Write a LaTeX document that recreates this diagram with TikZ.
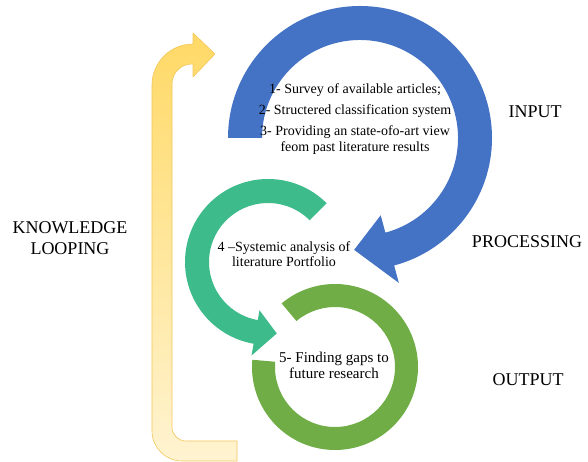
\documentclass[tikz,border=0pt]{standalone}
\usepackage{fontspec}
\setmainfont{Liberation Serif}
\definecolor{inblue}{HTML}{4472C4}
\definecolor{proteal}{HTML}{3EBB8B}
\definecolor{outgreen}{HTML}{70AD47}
\definecolor{loopyel}{HTML}{FFD966}
\definecolor{loopedge}{HTML}{F2C75C}
\begin{document}
\begin{tikzpicture}[x=1pt,y=1pt,line join=round,
	lbl/.style={font=\fontsize{18}{21}\selectfont,align=center},
	txt/.style={font=\fontsize{14}{16}\selectfont,align=center,inner sep=0pt}]
	\useasboundingbox (0,0) rectangle (588,462);
	% knowledge looping
	\shadedraw[top color=loopyel,bottom color=loopyel!30,draw=loopedge,line width=0.6pt] (237,21)--(186,21) arc[start angle=-90,end angle=-180,radius=14]--(172,378) arc[start angle=180,end angle=90,radius=20]--(193,398)--(193,385)--(215,408)--(193,429)--(193,418) arc[start angle=90,end angle=180,radius=41]--(152,31) arc[start angle=180,end angle=270,radius=30]--(237,1)--cycle;
	% input
	\begin{scope}[shift={(360,324)}]
		\fill[inblue] (180:132) arc[start angle=180,end angle=-75,radius=132]--(-75:150)--(-93:112)--(-75:80)--(-75:98) arc[start angle=-75,end angle=180,radius=98]--cycle;
	\end{scope}
	% processing
	\begin{scope}[shift={(268,200)}]
		\fill[proteal] (45:83) arc[start angle=45,end angle=260,radius=83]--(260:95)--(277:72)--(260:49)--(260:59) arc[start angle=260,end angle=45,radius=59]--cycle;
	\end{scope}
	% output
	\begin{scope}[shift={(335,95)}]
		\fill[outgreen] (130:83) arc[start angle=130,end angle=-185,radius=83]--(-185:60) arc[start angle=-185,end angle=130,radius=60]--cycle;
	\end{scope}
	\node[txt] (survey) at (355,343) {1- Survey of available articles;\\[5pt]2- Structered classification system\\[5pt]3- Providing an state-ofo-art view\\feom past literature results};
	\node[txt,font=\fontsize{14}{15}\selectfont] (analysis) at (284,208) {4 –Systemic analysis of\\literature Portfolio};
	\node[txt,font=\fontsize{15}{16}\selectfont] (gaps) at (334,97) {5- Finding gaps to\\future research};
	\node[lbl] (input) at (535,350) {INPUT};
	\node[lbl] (proc) at (527,220) {PROCESSING};
	\node[lbl] (outp) at (528,82) {OUTPUT};
	\node[lbl] (loop) at (70,224) {KNOWLEDGE\\LOOPING};
\end{tikzpicture}
\end{document}
